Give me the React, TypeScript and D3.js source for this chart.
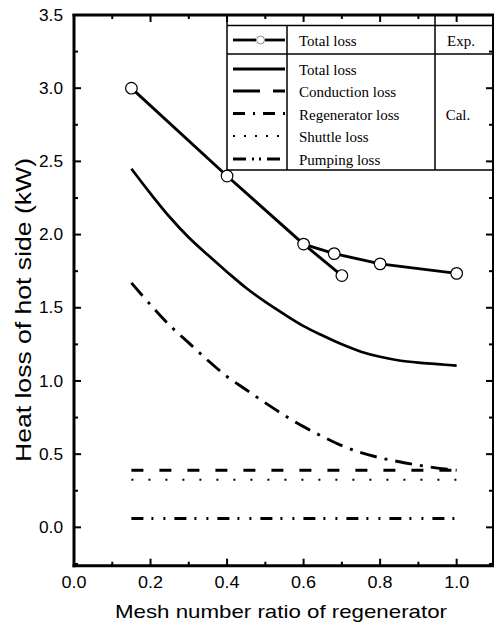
import React from "react";
import * as d3 from "d3";

// ---------- data ----------
const expMainX = [0.15, 0.4, 0.6, 0.68, 0.8, 1.0];
const expMainY = [3.0, 2.4, 1.935, 1.87, 1.8, 1.735];
const expBranchX = [0.6, 0.7];
const expBranchY = [1.935, 1.72];

const calcX = [0.15, 0.2, 0.25, 0.3, 0.35, 0.4, 0.45, 0.5, 0.55, 0.6, 0.65, 0.7, 0.75, 0.8, 0.85, 0.9, 0.95, 1.0];
const totalCalc = [2.45, 2.28, 2.12, 1.98, 1.86, 1.745, 1.635, 1.54, 1.455, 1.375, 1.31, 1.25, 1.2, 1.165, 1.14, 1.125, 1.115, 1.105];
const regenCalc = [1.67, 1.52, 1.38, 1.26, 1.14, 1.03, 0.94, 0.85, 0.765, 0.688, 0.62, 0.558, 0.51, 0.475, 0.448, 0.425, 0.405, 0.39];

const flatX = [0.15, 1.0];
const conductionY = [0.39, 0.39];
const shuttleY = [0.325, 0.325];
const pumpingY = [0.06, 0.06];

const xTickLabels = ["0.0", "0.2", "0.4", "0.6", "0.8", "1.0"];
const yTickLabels = ["0.0", "0.5", "1.0", "1.5", "2.0", "2.5", "3.0", "3.5"];

const legendCalcLabels = ["Total loss", "Conduction loss", "Regenerator loss", "Shuttle loss", "Pumping loss"];

// ---------- layout ----------
const W = 496, H = 623;
const L = 74, R = 493, T = 15, B = 565.7;

const x = d3.scaleLinear().domain([0, 1.095]).range([L, R]);
const y = d3.scaleLinear().domain([-0.262, 3.5]).range([B, T]);

const DASH_COND = "12,16";
const DASH_REGEN = "17,8,3,8";
const DASH_SHUT = "2,15";
const DASH_PUMP = "12,8,2,10,2,9";

function pts(xs: number[], ys: number[]): [number, number][] {
  return xs.map((v, i) => [v, ys[i]]);
}

export default function App() {
  const lineLin = d3.line<[number, number]>().x(d => x(d[0])).y(d => y(d[1]));
  const lineSmooth = d3
    .line<[number, number]>()
    .x(d => x(d[0]))
    .y(d => y(d[1]))
    .curve(d3.curveCatmullRom.alpha(0.5));

  const sans = "'Liberation Sans', Arial, sans-serif";
  const serif = "'Liberation Serif', 'Times New Roman', serif";

  // ticks
  const yMajor = d3.range(0, 3.5001, 0.5);
  const yMinor = d3.range(-0.25, 3.5001, 0.5);
  const xMajor = d3.range(0, 1.0001, 0.2);
  const xMinor = d3.range(0.1, 1.0951, 0.2);

  const legL = 227, legC1 = 287, legC2 = 435;
  const legTop = 25.5, legRow = 54, legBot = 170;
  const sampleX0 = 233, sampleX1 = 285;
  const calcRowY = [69, 91, 113.5, 136, 159];
  const calcTextY = [75, 97, 119.5, 141.5, 164.5];
  const calcDash = [undefined, "27,13", "12,8,2,8", "2,9", "13,6,2,5,2,6"];

  return (
    <svg
      width={W}
      height={H}
      style={{ position: "absolute", left: 0, top: 0, background: "#fff" }}
      xmlns="http://www.w3.org/2000/svg"
    >
      <rect x={0} y={0} width={W} height={H} fill="#fff" />

      {/* data lines */}
      <g fill="none" stroke="#000">
        <path d={lineSmooth(pts(calcX, totalCalc)) || ""} strokeWidth={2.7} />
        <path d={lineSmooth(pts(calcX, regenCalc)) || ""} strokeWidth={2.9} strokeDasharray={DASH_REGEN} />
        <path d={lineLin(pts(flatX, conductionY)) || ""} strokeWidth={3} strokeDasharray={DASH_COND} />
        <path d={lineLin(pts(flatX, shuttleY)) || ""} strokeWidth={2.2} strokeDasharray={DASH_SHUT} />
        <path d={lineLin(pts(flatX, pumpingY)) || ""} strokeWidth={3} strokeDasharray={DASH_PUMP} />
        <path d={lineLin(pts(expMainX, expMainY)) || ""} strokeWidth={2.9} />
        <path d={lineLin(pts(expBranchX, expBranchY)) || ""} strokeWidth={2.9} />
      </g>
      <g fill="#fff" stroke="#000" strokeWidth={1.2}>
        {expMainX.map((v, i) => (
          <circle key={"m" + i} cx={x(v)} cy={y(expMainY[i])} r={5.8} />
        ))}
        <circle cx={x(expBranchX[1])} cy={y(expBranchY[1])} r={5.8} />
      </g>

      {/* legend table */}
      <g stroke="#000" strokeWidth={1.5} fill="none">
        <rect x={legL} y={T} width={R - legL} height={legBot - T} fill="#fff" />
        <line x1={legL} x2={R} y1={legTop} y2={legTop} />
        <line x1={legL} x2={R} y1={legRow} y2={legRow} />
        <line x1={legC1} x2={legC1} y1={legTop} y2={legBot} />
        <line x1={legC2} x2={legC2} y1={T} y2={legBot} />
      </g>
      <g fill="none" stroke="#000">
        <line x1={sampleX0} x2={256} y1={40} y2={40} strokeWidth={2.8} />
        <line x1={265} x2={sampleX1} y1={40} y2={40} strokeWidth={2.8} />
        <circle cx={260.5} cy={40} r={4} stroke="#888" strokeWidth={1} fill="#fff" />
        {calcRowY.map((ry, i) => (
          <line
            key={i}
            x1={sampleX0}
            x2={sampleX1}
            y1={ry}
            y2={ry}
            strokeWidth={i === 3 ? 2 : 2.9}
            strokeDasharray={calcDash[i]}
          />
        ))}
      </g>
      <g fontFamily={serif} fontSize={15} fill="#000">
        <text x={299} y={46}>Total loss</text>
        {legendCalcLabels.map((s, i) => (
          <text key={s} x={299} y={calcTextY[i]}>{s}</text>
        ))}
        <text x={461} y={46} textAnchor="middle">Exp.</text>
        <text x={458} y={120} textAnchor="middle">Cal.</text>
      </g>

      {/* ticks */}
      <g stroke="#000" strokeWidth={2}>
        {yMajor.map(v => (
          <g key={"ym" + v}>
            <line x1={L} x2={L + 7} y1={y(v)} y2={y(v)} />
            <line x1={R} x2={R - 7} y1={y(v)} y2={y(v)} />
          </g>
        ))}
        {yMinor.map(v => (
          <g key={"yn" + v}>
            <line x1={L} x2={L + 4} y1={y(v)} y2={y(v)} />
            <line x1={R} x2={R - 4} y1={y(v)} y2={y(v)} />
          </g>
        ))}
        {xMajor.map(v => (
          <g key={"xm" + v}>
            <line x1={x(v)} x2={x(v)} y1={B} y2={B - 7} />
            <line x1={x(v)} x2={x(v)} y1={T} y2={T + 7} />
          </g>
        ))}
        {xMinor.map(v => (
          <g key={"xn" + v}>
            <line x1={x(v)} x2={x(v)} y1={B} y2={B - 4} />
            <line x1={x(v)} x2={x(v)} y1={T} y2={T + 4} />
          </g>
        ))}
      </g>

      {/* frame */}
      <g stroke="#000" fill="none">
        <line x1={L} x2={L} y1={T - 1} y2={B + 1.5} strokeWidth={3} />
        <line x1={L - 1.5} x2={R + 1} y1={B} y2={B} strokeWidth={3} />
        <line x1={L - 1.5} x2={R + 1} y1={T} y2={T} strokeWidth={3} />
        <line x1={R} x2={R} y1={T} y2={B} strokeWidth={2} />
      </g>

      {/* tick labels */}
      <g fontFamily={sans} fontSize={16} fill="#000">
        {yTickLabels.map(s => (
          <text key={"yl" + s} x={63} y={y(+s) + 5.7} textAnchor="end" textLength={24} lengthAdjust="spacingAndGlyphs">
            {s}
          </text>
        ))}
        {xTickLabels.map(s => (
          <text key={"xl" + s} x={x(+s)} y={588.3} textAnchor="middle" textLength={25} lengthAdjust="spacingAndGlyphs">
            {s}
          </text>
        ))}
      </g>

      {/* axis titles */}
      <text
        x={281}
        y={618.3}
        textAnchor="middle"
        fontFamily={sans}
        fontSize={19}
        textLength={332}
        lengthAdjust="spacingAndGlyphs"
      >
        Mesh number ratio of regenerator
      </text>
      <text
        transform="translate(31,310) rotate(-90)"
        x={0}
        y={0}
        textAnchor="middle"
        fontFamily={sans}
        fontSize={22}
        textLength={304}
        lengthAdjust="spacingAndGlyphs"
      >
        Heat loss of hot side (kW)
      </text>
    </svg>
  );
}
